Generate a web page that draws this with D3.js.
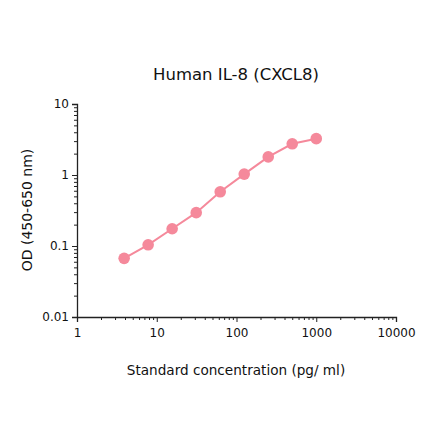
<!DOCTYPE html>
<html>
<head>
<meta charset="utf-8">
<script src="https://cdn.jsdelivr.net/npm/d3@7"></script>
<style>
  body { margin: 0; background: #fff; }
  text { font-family: "DejaVu Sans", sans-serif; fill: #111; }
</style>
</head>
<body>
<div id="chart"></div>
<script>
// standard curve data
const concentrations = [3.9, 7.8, 15.6, 31.25, 62.5, 125, 250, 500, 1000];
const odValues = [0.067, 0.104, 0.175, 0.295, 0.58, 1.03, 1.8, 2.75, 3.25];
const xTicks = [1, 10, 100, 1000, 10000];
const yTicks = [0.01, 0.1, 1, 10];
const yTickLabels = ['0.01', '0.1', '1', '10'];

const width = 440;
const height = 441;
const margin = { left: 77, right: 44, top: 104, bottom: 124 };
const color = '#f5899b';

const svg = d3.select('#chart')
    .append('svg')
    .attr('width', width)
    .attr('height', height);

const x = d3.scaleLog()
    .domain([1, 10000])
    .range([margin.left, width - margin.right]);

const y = d3.scaleLog()
    .domain([0.01, 10])
    .range([height - margin.bottom, margin.top]);

// minor ticks for each decade
function minorTicks(lo, hi) {
    const out = [];
    for (let d = lo; d < hi; d *= 10) {
        for (let k = 2; k <= 9; k++) out.push(d * k);
    }
    return out;
}

const xAxis = svg.append('g')
    .attr('transform', `translate(0,${height - margin.bottom})`);
xAxis.call(d3.axisBottom(x).tickValues(xTicks).tickFormat(d3.format('d')).tickSize(5).tickPadding(6));
xAxis.append('g').call(d3.axisBottom(x).tickValues(minorTicks(1, 10000)).tickFormat('').tickSize(3))
    .select('.domain').remove();

const yAxis = svg.append('g')
    .attr('transform', `translate(${margin.left},0)`);
yAxis.call(d3.axisLeft(y).tickValues(yTicks).tickFormat((d, i) => yTickLabels[i]).tickSize(5).tickPadding(3));
yAxis.append('g').call(d3.axisLeft(y).tickValues(minorTicks(0.01, 10)).tickFormat('').tickSize(3))
    .select('.domain').remove();

svg.selectAll('.domain').attr('stroke', '#222').attr('stroke-width', 1.3);
svg.selectAll('.tick line').attr('stroke', '#222');
svg.selectAll('.tick text').style('font-size', '12px').attr('fill', '#111');

const pts = concentrations.map((c, i) => [c, odValues[i]]);

svg.append('path')
    .datum(pts)
    .attr('fill', 'none')
    .attr('stroke', color)
    .attr('stroke-width', 2)
    .attr('d', d3.line().x(d => x(d[0])).y(d => y(d[1])));

svg.append('g')
    .selectAll('circle')
    .data(pts)
    .enter().append('circle')
    .attr('cx', d => x(d[0]))
    .attr('cy', d => y(d[1]))
    .attr('r', 5.8)
    .attr('fill', color);

// title and axis labels
svg.append('text')
    .attr('x', 236)
    .attr('y', 80)
    .attr('text-anchor', 'middle')
    .style('font-size', '16.5px')
    .text('Human IL-8 (CXCL8)');

svg.append('text')
    .attr('x', 236)
    .attr('y', 375)
    .attr('text-anchor', 'middle')
    .style('font-size', '13.6px')
    .text('Standard concentration (pg/ ml)');

svg.append('text')
    .attr('transform', 'translate(32,210) rotate(-90)')
    .attr('text-anchor', 'middle')
    .style('font-size', '14px')
    .text('OD (450-650 nm)');
</script>
</body>
</html>
